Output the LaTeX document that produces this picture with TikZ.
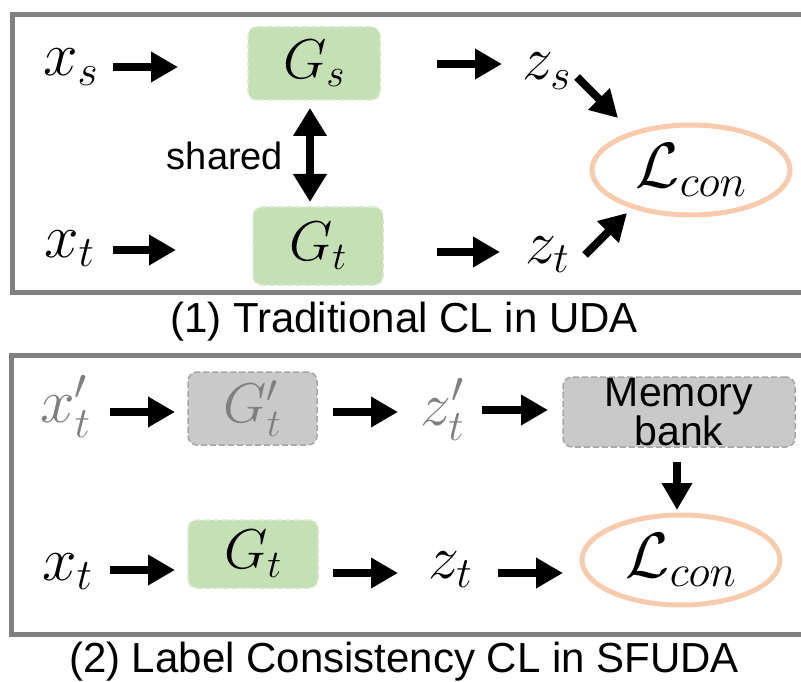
\RequirePackage{fix-cm}
\documentclass[tikz,border=0pt]{standalone}
\usepackage{fontspec}
\setsansfont{Liberation Sans}
\usetikzlibrary{arrows.meta,shapes.geometric}
\definecolor{framegray}{HTML}{808080}
\definecolor{gfill}{HTML}{C5E0B4}
\definecolor{gborder}{HTML}{D8EACD}
\definecolor{bfill}{HTML}{C9C9C9}
\definecolor{bborder}{HTML}{A6A6A6}
\definecolor{lossc}{HTML}{F8CBAD}
\definecolor{faded}{HTML}{7F7F7F}
\tikzset{
  arr/.style={line width=8pt, -{Triangle[length=27pt,width=29pt]}},
  dbl/.style={line width=8pt, {Triangle[length=28pt,width=32pt]}-{Triangle[length=28pt,width=32pt]}},
  mathlbl/.style={inner sep=0pt, anchor=base west, font=\fontsize{62}{70}\selectfont},
  gtext/.style={font=\fontsize{56}{64}\selectfont},
  gbox/.style={draw=gborder, dash pattern=on 6pt off 3pt, line width=1.5pt, fill=gfill,
    rounded corners=9pt, inner sep=0pt, gtext},
  graybox/.style={draw=bborder, dash pattern=on 6pt off 3pt, line width=1.5pt, fill=bfill,
    rounded corners=9pt, inner sep=0pt},
  loss/.style={ellipse, draw=lossc, line width=5pt, minimum width=198pt, minimum height=90pt,
    inner sep=0pt, font=\fontsize{64}{70}\selectfont},
  frame/.style={draw=framegray, line width=4.5pt},
  sanslbl/.style={font=\sffamily\fontsize{42}{48}\selectfont, inner sep=0pt},
}
\begin{document}
\begin{tikzpicture}[x=1pt,y=-1pt]
\useasboundingbox (0,0) rectangle (801,682);
% ---------- panel 1 ----------
\draw[frame] (812,14.5) -- (12.5,14.5) -- (12.5,292.5) -- (812,292.5);
\node[mathlbl] (xs) at (43,76) {$x_s$};
\node[gbox, minimum width=132pt, minimum height=73pt] (Gs) at (314,63.5) {$G_s$};
\node[mathlbl] (zs) at (522,80) {$z_s$};
\node[loss] (L1) at (691,170) {$\mathcal{L}_{con}$};
\node[sanslbl, font=\sffamily\fontsize{38}{44}\selectfont] (sh) at (225,156) {shared};
\node[gbox, minimum width=130pt, minimum height=78pt] (Gt1) at (318,246) {$G_t$};
\node[mathlbl] (xt1) at (44,257) {$x_t$};
\node[mathlbl] (zt1) at (525,263) {$z_t$};

\coordinate (xs-o) at (113,67);  \coordinate (Gs-i) at (178,67);
\coordinate (Gs-o) at (437,64);  \coordinate (zs-i) at (502,64);
\coordinate (zs-o) at (577,77);  \coordinate (L1-a) at (618,118);
\coordinate (xt1-o) at (113,250); \coordinate (Gt1-i) at (176,250);
\coordinate (Gt1-o) at (437,252); \coordinate (zt1-i) at (500,252);
\coordinate (zt1-o) at (585,255); \coordinate (L1-b) at (627,213);
\coordinate (Gs-d) at (310,108); \coordinate (Gt1-u) at (310,202);
\draw[arr] (xs-o) -- (Gs-i);
\draw[arr] (Gs-o) -- (zs-i);
\draw[arr] (zs-o) -- (L1-a);
\draw[arr] (xt1-o) -- (Gt1-i);
\draw[arr] (Gt1-o) -- (zt1-i);
\draw[arr] (zt1-o) -- (L1-b);
\draw[dbl] (Gs-d) -- (Gt1-u);

\node[sanslbl] (cap1) at (404,322) {(1) Traditional CL in UDA};

% ---------- panel 2 ----------
\draw[frame, line width=5pt] (812,355) -- (11,355) -- (11,634) -- (812,634);
\node[mathlbl, text=faded] (xtp) at (40,422) {$x_t^{\prime}$};
\node[graybox, minimum width=129pt, minimum height=73pt, gtext, text=faded] (Gtp) at (252.5,408.5) {$G_t^{\prime}$};
\node[mathlbl, text=faded] (ztp) at (420,425) {$z_t^{\prime}$};
\node[graybox, minimum width=232pt, minimum height=70pt, align=center,
  font=\sffamily\fontsize{41}{31}\selectfont] (mb) at (679,412) {Memory\\bank};
\node[loss] (L2) at (681,560) {$\mathcal{L}_{con}$};
\node[mathlbl] (xt2) at (42,580) {$x_t$};
\node[gbox, minimum width=130pt, minimum height=68pt] (Gt2) at (253,554) {$G_t$};
\node[mathlbl] (zt2) at (428,578) {$z_t$};

\coordinate (xtp-o) at (110,412); \coordinate (Gtp-i) at (175,412);
\coordinate (Gtp-o) at (333,412); \coordinate (ztp-i) at (398,412);
\coordinate (ztp-o) at (482,410); \coordinate (mb-i) at (548,410);
\coordinate (mb-o) at (677,462);  \coordinate (L2-t) at (677,510);
\coordinate (xt2-o) at (110,570); \coordinate (Gt2-i) at (175,570);
\coordinate (Gt2-o) at (333,573); \coordinate (zt2-i) at (398,573);
\coordinate (zt2-o) at (498,573); \coordinate (L2-w) at (563,573);
\draw[arr] (xtp-o) -- (Gtp-i);
\draw[arr] (Gtp-o) -- (ztp-i);
\draw[arr] (ztp-o) -- (mb-i);
\draw[arr] (mb-o) -- (L2-t);
\draw[arr] (xt2-o) -- (Gt2-i);
\draw[arr] (Gt2-o) -- (zt2-i);
\draw[arr] (zt2-o) -- (L2-w);

\node[sanslbl] (cap2) at (404,662) {(2) Label Consistency CL in SFUDA};
\end{tikzpicture}
\end{document}
